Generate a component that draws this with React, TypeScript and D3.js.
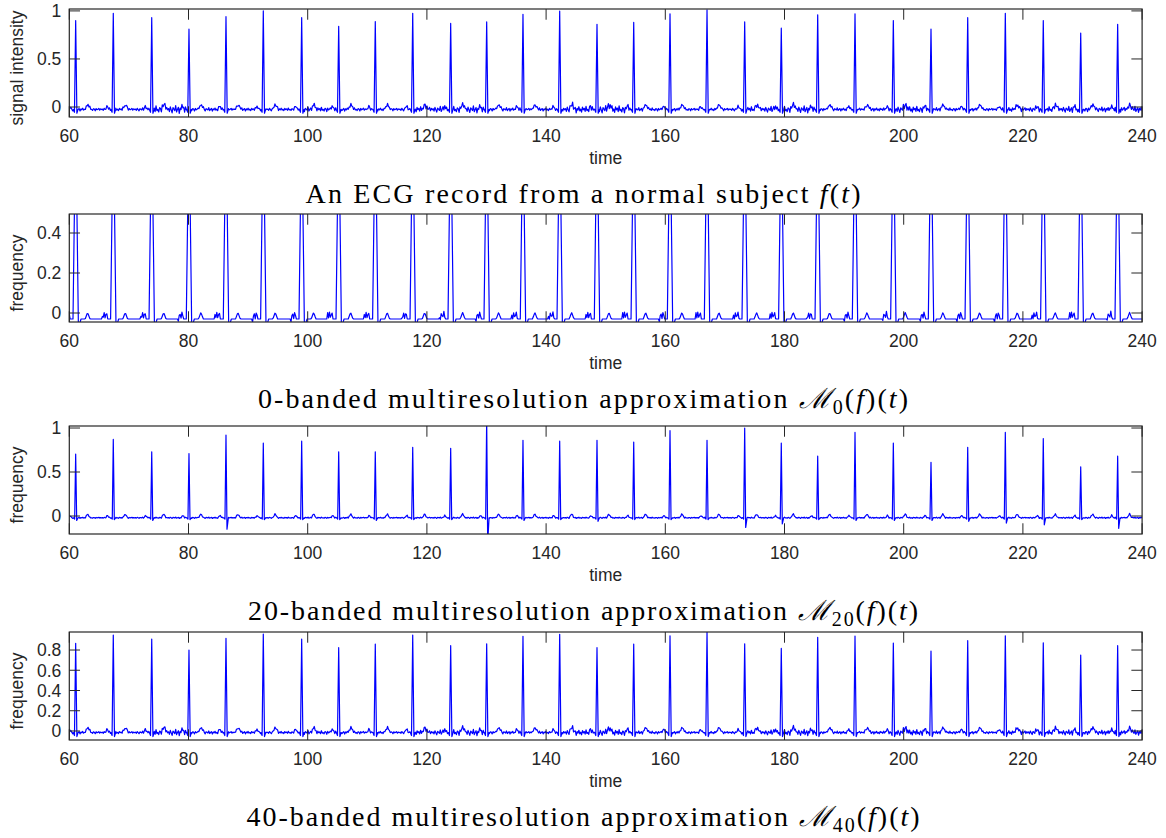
import React, { useEffect, useRef } from "react";
import * as d3 from "d3";

const xTicks = [60, 80, 100, 120, 140, 160, 180, 200, 220, 240];

// R-peak times (the same beats show in all four panels)
const beatTimes = [61.07, 67.38, 73.83, 80.08, 86.29, 92.55, 98.99, 105.2, 111.34, 117.62,
  123.99, 130.03, 136.12, 142.28, 148.54, 154.7, 160.79, 167.0, 173.32, 179.46,
  185.57, 191.83, 198.26, 204.58, 210.74, 217.05, 223.42, 229.7, 235.9];

// peak heights per panel
const ecgPeaks = [0.9, 0.976, 0.93, 0.81, 0.94, 1.0, 0.93, 0.84, 0.89, 0.976,
  0.87, 0.885, 0.965, 0.997, 0.86, 0.88, 0.97, 1.01, 0.885, 0.82,
  0.96, 0.97, 0.9, 0.81, 0.93, 0.976, 0.9, 0.77, 0.86];
// 0-banded peaks run off the top of the axes, true height not visible
const band0Peaks = [1.0, 1.0, 1.0, 1.0, 1.0, 1.0, 1.0, 1.0, 1.0, 1.0,
  1.0, 1.0, 1.0, 1.0, 1.0, 1.0, 1.0, 1.0, 1.0, 1.0,
  1.0, 1.0, 1.0, 1.0, 1.0, 1.0, 1.0, 1.0, 1.0];
const band20Peaks = [0.705, 0.87, 0.73, 0.71, 0.92, 0.83, 0.85, 0.73, 0.73, 0.78,
  0.77, 1.1, 0.86, 0.85, 0.86, 0.84, 0.97, 0.86, 1.0, 0.83,
  0.68, 0.95, 0.83, 0.61, 0.78, 0.95, 0.88, 0.56, 0.68];
const band20Dips = [-0.05, -0.04, -0.05, -0.04, -0.15, -0.04, -0.04, -0.04, -0.05, -0.04,
  -0.04, -0.3, -0.05, -0.04, -0.06, -0.04, -0.04, -0.04, -0.13, -0.09,
  -0.04, -0.05, -0.05, -0.05, -0.06, -0.08, -0.1, -0.04, -0.14];
const band40Peaks = [0.866, 0.948, 0.909, 0.8, 0.915, 0.958, 0.909, 0.823, 0.859, 0.948,
  0.843, 0.862, 0.935, 0.955, 0.823, 0.859, 0.941, 0.98, 0.862, 0.816,
  0.925, 0.938, 0.869, 0.79, 0.892, 0.941, 0.872, 0.75, 0.843];

// baseline jitter sample (normalised), read from the 60-68 stretch of the top trace
const ripple = [0.2, -0.5, 0.6, -0.1, -0.8, 0.4, 0.1, -0.3, 0.9, -0.6, 0.0, 0.5, -0.9,
  0.3, -0.2, 0.7, -0.4, 0.1, -0.7, 0.6, -0.1, 0.3, -0.5, 0.8, -0.3, 0.0, -0.6,
  0.4, 0.2, -0.8, 0.5, -0.2, 0.1, 0.6, -0.4, 0.3, -0.1];

// how rough the baseline looks between consecutive beats (30 gaps)
const ecgNoise = [0.02, 0.018, 0.018, 0.045, 0.02, 0.018, 0.018, 0.028, 0.02, 0.018,
  0.035, 0.04, 0.02, 0.018, 0.04, 0.045, 0.02, 0.018, 0.018, 0.035,
  0.04, 0.018, 0.02, 0.04, 0.02, 0.018, 0.028, 0.035, 0.028, 0.035];
const band20Noise = [0.009, 0.008, 0.008, 0.009, 0.009, 0.008, 0.008, 0.009, 0.009, 0.008,
  0.009, 0.009, 0.008, 0.008, 0.009, 0.009, 0.008, 0.008, 0.008, 0.009,
  0.009, 0.008, 0.008, 0.009, 0.008, 0.008, 0.009, 0.009, 0.009, 0.009];
const band40Noise = [0.017, 0.015, 0.015, 0.035, 0.017, 0.015, 0.015, 0.022, 0.017, 0.015,
  0.028, 0.035, 0.017, 0.015, 0.032, 0.036, 0.017, 0.015, 0.015, 0.028,
  0.035, 0.015, 0.017, 0.035, 0.017, 0.015, 0.025, 0.03, 0.025, 0.03];

// one beat around its R peak: [offset, value above baseline]
const ecgWaves = [[-1.4, 0], [-1.05, 0.035], [-0.7, 0], [1.5, 0], [2.05, 0.05], [2.6, 0]];
const ecgQrs = [[-0.4, 0], [-0.2, -0.03], [0, "R"], [0.2, "S"], [0.4, 0]];
const band0Waves = [[-1.9, 0], [-1.85, 0.032], [-1.8, -0.015], [-1.55, 0.035], [-1.35, 0.0],
  [-1.15, 0.04], [-0.95, 0], [1.6, 0], [2.0, 0.033], [2.4, 0]];
const band0Qrs = [[-0.45, 0], [0, "R"], [0.45, -0.02], [0.6, -0.03], [0.9, 0]];
const band20Waves = [[-1.3, 0], [-1.0, 0.03], [-0.7, 0], [1.6, 0], [2.0, 0.045], [2.4, 0]];
const band20Qrs = [[-0.35, 0], [-0.17, -0.015], [0, "R"], [0.17, "S"], [0.4, 0]];

const panels = [
  { top: 9, domain: [-0.104, 1.02], yTicks: [0, 0.5, 1], ylabel: "signal intensity",
    base: -0.025, peaks: ecgPeaks, dips: null, sDrop: -0.04, noise: ecgNoise,
    waves: ecgWaves, qrs: ecgQrs, title: "An ECG record from a normal subject", sub: null, titleW: 555 },
  { top: 214, domain: [-0.045, 0.495], yTicks: [0, 0.2, 0.4], ylabel: "frequency",
    base: -0.03, peaks: band0Peaks, dips: null, sDrop: -0.03, noise: null,
    waves: band0Waves, qrs: band0Qrs, title: "0-banded multiresolution approximation", sub: "0", titleW: 650 },
  { top: 426, domain: [-0.2045, 1.023], yTicks: [0, 0.5, 1], ylabel: "frequency",
    base: -0.02, peaks: band20Peaks, dips: band20Dips, sDrop: -0.03, noise: band20Noise,
    waves: band20Waves, qrs: band20Qrs, title: "20-banded multiresolution approximation", sub: "20", titleW: 670 },
  { top: 632, domain: [-0.089, 0.978], yTicks: [0, 0.2, 0.4, 0.6, 0.8], ylabel: "frequency",
    base: -0.015, peaks: band40Peaks, dips: null, sDrop: -0.04, noise: band40Noise,
    waves: ecgWaves, qrs: ecgQrs, title: "40-banded multiresolution approximation", sub: "40", titleW: 673 },
];

const W = 1166, H = 838;
const left = 69.3, right = 1142.1, ph = 108;
const axisColor = "#262626";
const sans = "'Liberation Sans', Arial, Helvetica, sans-serif";
const serif = "'Liberation Serif', 'Times New Roman', serif";

function buildTrace(p) {
  const pts = [];
  const qrsLo = p.qrs[0][0], qrsHi = p.qrs[p.qrs.length - 1][0];
  const waveAt = (dt) => {
    const w = p.waves;
    for (let i = 0; i < w.length - 1; i++) {
      if (dt >= w[i][0] && dt <= w[i + 1][0]) {
        const f = (dt - w[i][0]) / (w[i + 1][0] - w[i][0]);
        return w[i][1] + f * (w[i + 1][1] - w[i][1]);
      }
    }
    return 0;
  };
  const step = 0.15;
  for (let k = 0; k <= 1200; k++) {
    const t = 60 + k * step;
    let j = 0;
    beatTimes.forEach((b, i) => { if (Math.abs(t - b) < Math.abs(t - beatTimes[j])) j = i; });
    const dt = t - beatTimes[j];
    if (dt > qrsLo && dt < qrsHi) continue;
    const gap = d3.bisectRight(beatTimes, t);
    const jitter = p.noise ? ripple[k % ripple.length] * p.noise[gap] : 0;
    pts.push([t, p.base + waveAt(dt) + jitter]);
  }
  beatTimes.forEach((b, i) => {
    p.qrs.forEach(([dt, v]) => {
      let y;
      if (v === "R") y = p.peaks[i];
      else if (v === "S") y = p.dips ? p.dips[i] : p.base + p.sDrop;
      else y = p.base + v;
      pts.push([b + dt, y]);
    });
  });
  pts.sort((a, b) => a[0] - b[0]);
  return pts;
}

const Chart = () => {
  const svgRef = useRef(null);

  useEffect(() => {
    document.body.style.margin = "0";
    const svg = d3.select(svgRef.current);
    svg.selectAll("*").remove();

    const x = d3.scaleLinear().domain([60, 240]).range([left, right]);
    const tick = 0.01 * (right - left);

    panels.forEach((p, pi) => {
      const bottom = p.top + ph;
      const y = d3.scaleLinear().domain(p.domain).range([bottom, p.top]);
      const g = svg.append("g");

      g.append("clipPath").attr("id", `clip${pi}`)
        .append("rect").attr("x", left).attr("y", p.top).attr("width", right - left).attr("height", ph);

      const line = d3.line().x(d => x(d[0])).y(d => y(d[1]));
      g.append("path")
        .datum(buildTrace(p))
        .attr("clip-path", `url(#clip${pi})`)
        .attr("d", line)
        .attr("fill", "none")
        .attr("stroke", "#0000ff")
        .attr("stroke-width", 1.2)
        .attr("stroke-linejoin", "round");

      // box and inward ticks on all four sides
      g.append("rect").attr("x", left).attr("y", p.top).attr("width", right - left).attr("height", ph)
        .attr("fill", "none").attr("stroke", axisColor).attr("stroke-width", 1.2);

      xTicks.forEach(v => {
        g.append("line").attr("x1", x(v)).attr("x2", x(v)).attr("y1", bottom).attr("y2", bottom - tick)
          .attr("stroke", axisColor).attr("stroke-width", 1);
        g.append("line").attr("x1", x(v)).attr("x2", x(v)).attr("y1", p.top).attr("y2", p.top + tick)
          .attr("stroke", axisColor).attr("stroke-width", 1);
        g.append("text").attr("x", x(v)).attr("y", bottom + 25)
          .attr("text-anchor", "middle").attr("font-family", sans).attr("font-size", 17.5)
          .attr("fill", axisColor).text(v);
      });

      p.yTicks.forEach(v => {
        g.append("line").attr("x1", left).attr("x2", left + tick).attr("y1", y(v)).attr("y2", y(v))
          .attr("stroke", axisColor).attr("stroke-width", 1);
        g.append("line").attr("x1", right).attr("x2", right - tick).attr("y1", y(v)).attr("y2", y(v))
          .attr("stroke", axisColor).attr("stroke-width", 1);
        g.append("text").attr("x", left - 8).attr("y", y(v)).attr("dy", "0.36em")
          .attr("text-anchor", "end").attr("font-family", sans).attr("font-size", 17.5)
          .attr("fill", axisColor).text(String(v));
      });

      g.append("text")
        .attr("transform", `translate(23,${p.top + ph / 2 + 5}) rotate(-90)`)
        .attr("text-anchor", "middle").attr("font-family", sans).attr("font-size", 17.5)
        .attr("fill", axisColor).text(p.ylabel);

      g.append("text").attr("x", (left + right) / 2).attr("y", bottom + 47)
        .attr("text-anchor", "middle").attr("font-family", sans).attr("font-size", 17.5)
        .attr("fill", axisColor).text("time");

      // caption, LaTeX style
      const t = g.append("text").attr("x", W / 2).attr("y", bottom + 86)
        .attr("text-anchor", "middle").attr("font-family", serif).attr("font-size", 28)
        .attr("textLength", p.titleW).attr("lengthAdjust", "spacing")
        .attr("fill", "#000");
      t.append("tspan").text(p.title + " ");
      if (p.sub) {
        t.append("tspan").attr("font-family", "'DejaVu Serif', serif").attr("font-style", "italic").text("ℳ");
        t.append("tspan").attr("font-size", 20).attr("dy", 6).text(p.sub);
        t.append("tspan").attr("dy", -6).text("(");
        t.append("tspan").attr("font-style", "italic").text("f");
        t.append("tspan").text(")(");
      } else {
        t.append("tspan").attr("font-style", "italic").text("f");
        t.append("tspan").text("(");
      }
      t.append("tspan").attr("font-style", "italic").text("t");
      t.append("tspan").text(")");
    });
  }, []);

  return <svg ref={svgRef} width={W} height={H} style={{ display: "block" }} />;
};

export default function App() {
  return <Chart />;
}
